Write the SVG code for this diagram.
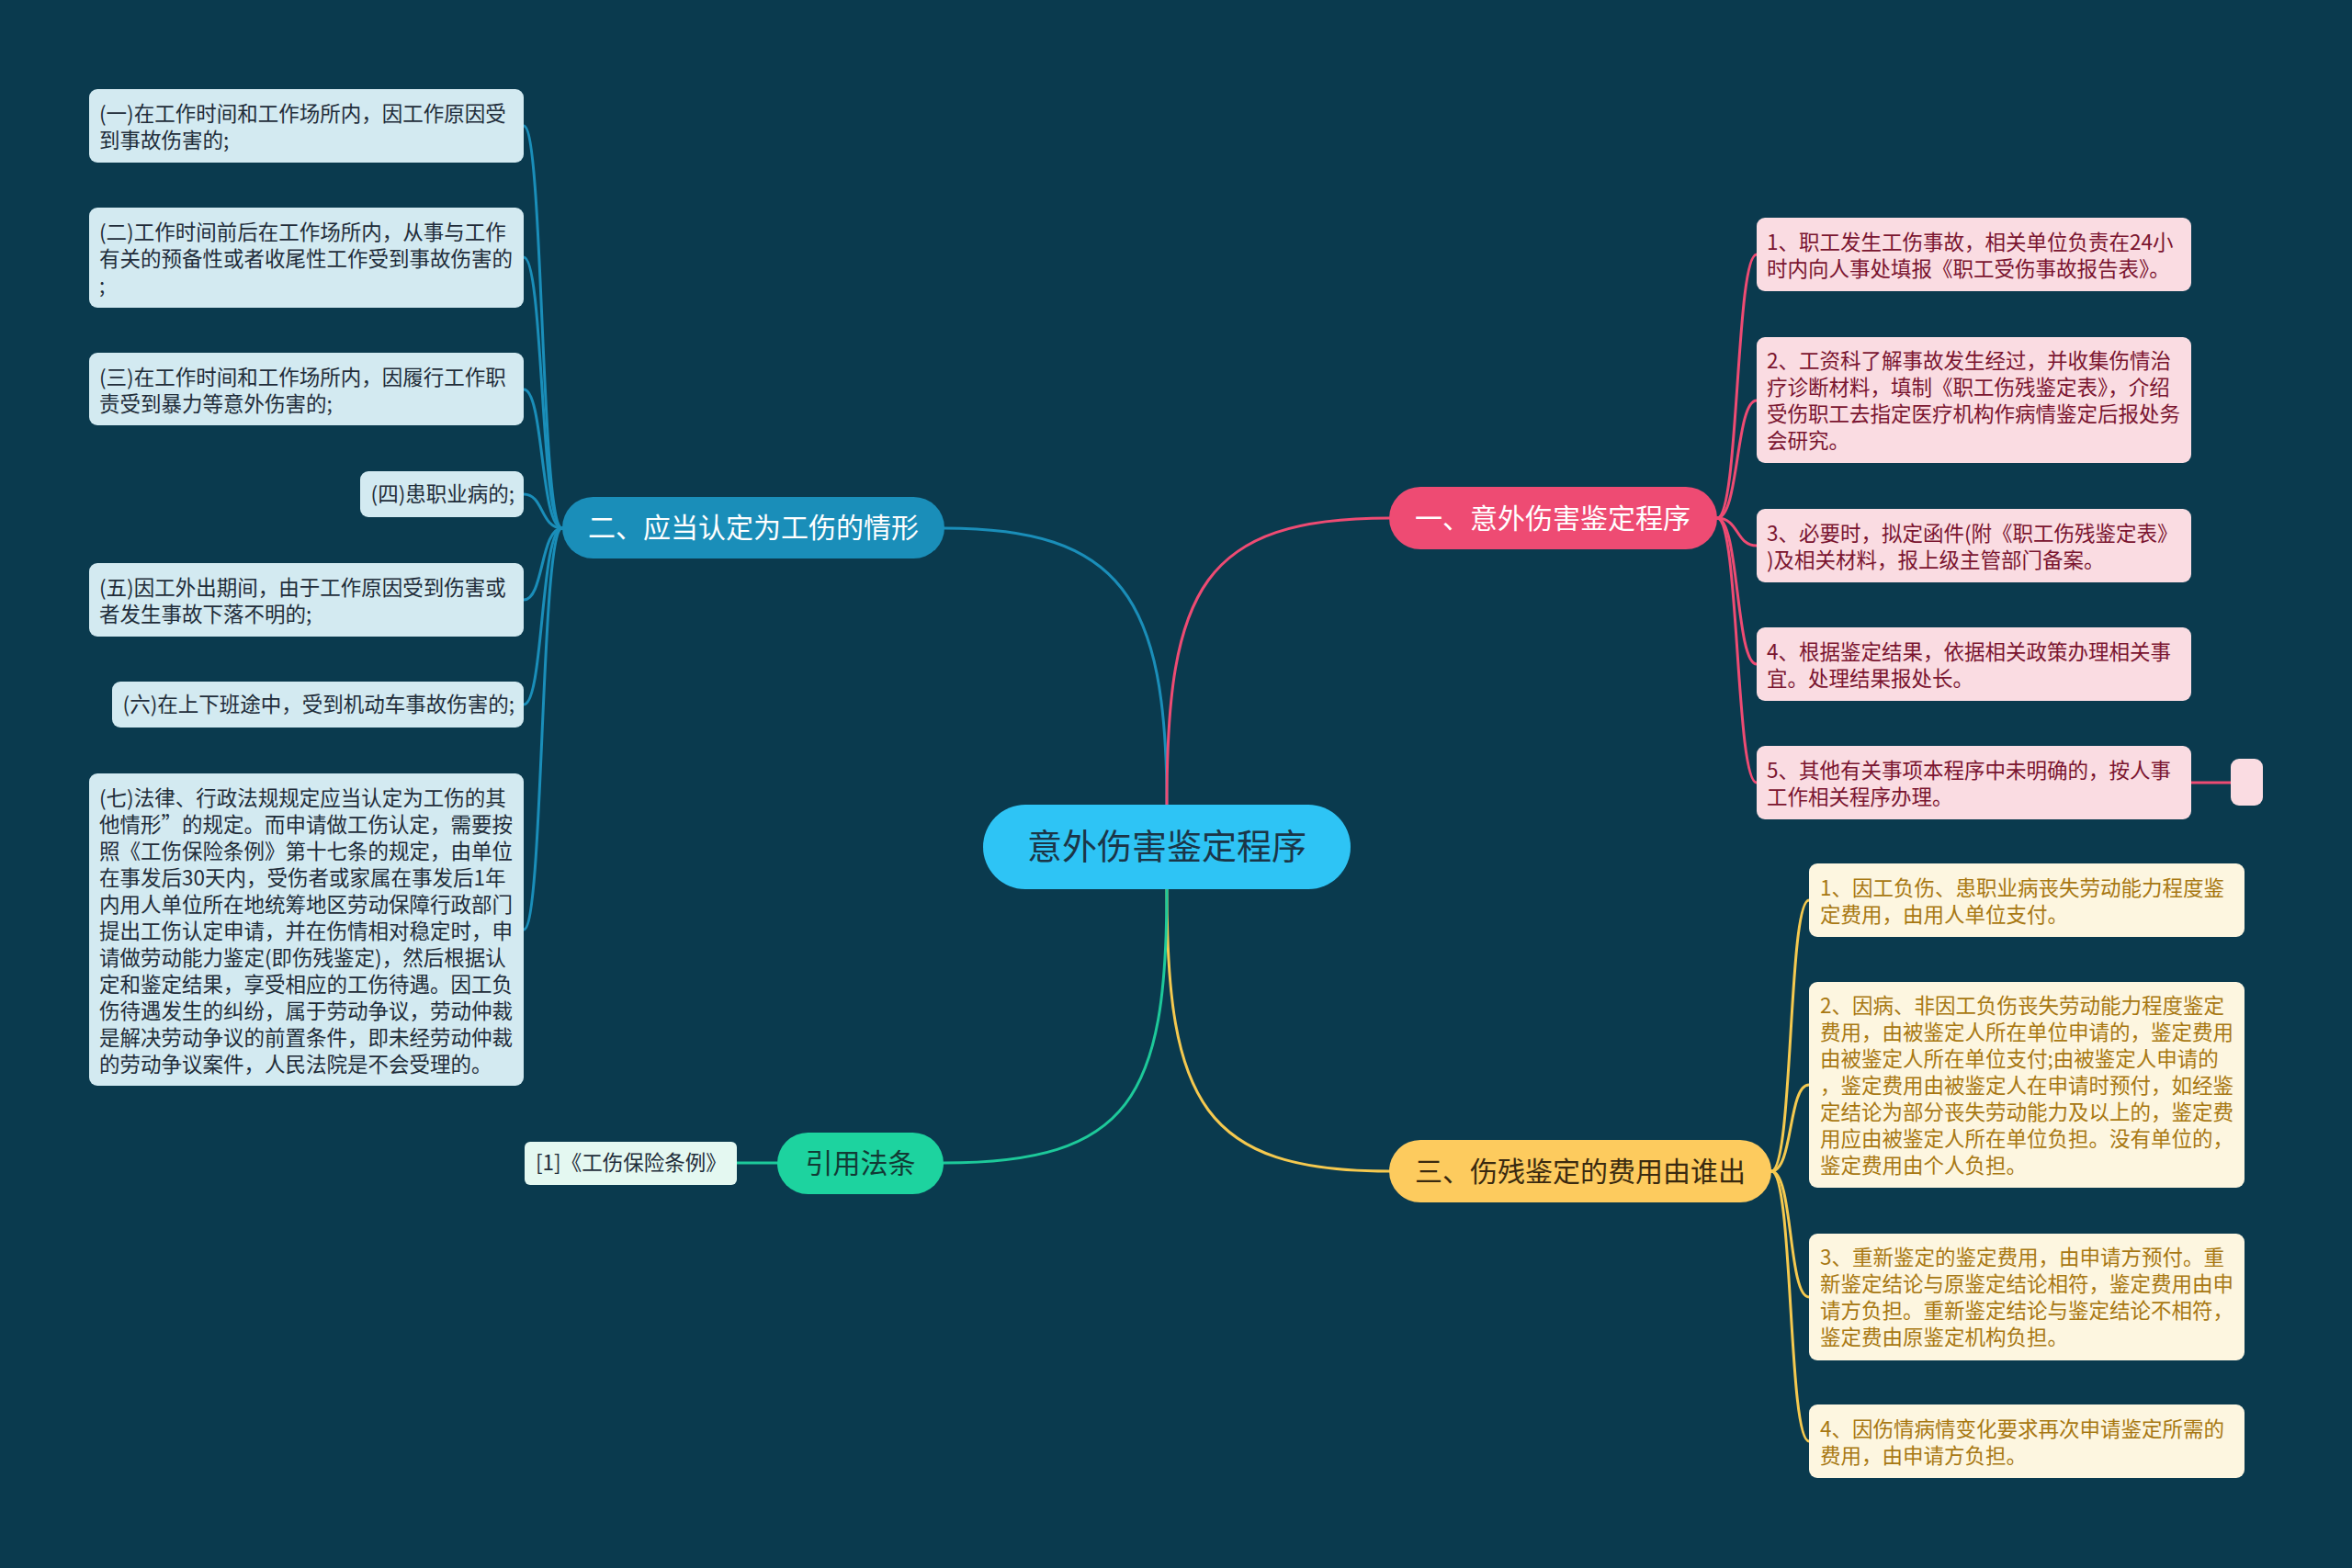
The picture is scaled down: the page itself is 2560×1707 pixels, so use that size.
<svg xmlns="http://www.w3.org/2000/svg" width="2560" height="1707" viewBox="0 0 2560 1707">
<style>
.t{font-family:"Noto Sans CJK SC","Liberation Sans",sans-serif;}
.leafB{fill:#D3EAF1;}
.leafP{fill:#FADCE2;}
.leafY{fill:#FDF6E0;}
.tb{font-size:22.5px;fill:#1F2D3A;}
.tp{font-size:22.5px;fill:#7A1530;}
.ty{font-size:22.5px;fill:#A87812;}
.br{font-size:30px;}
.c{fill:none;stroke-width:3;stroke-linecap:round;}
</style>
<rect width="2560" height="1707" fill="#0A3A4E"/>
<g id="connectors">
<path class="c" stroke="#1A8EB9" d="M1270,876 C1270,650 1220,575 1028,575"/>
<path class="c" stroke="#EE4B73" d="M1270,876 C1270,640 1310,564 1512,564"/>
<path class="c" stroke="#F5C94F" d="M1270,968 C1270,1200 1310,1275 1512,1275"/>
<path class="c" stroke="#1DC99A" d="M1270,968 C1270,1195 1230,1266 1027,1266"/>
<g stroke="#1A8EB9">
<path class="c" d="M612,575 C588,575 592,137 570,137"/>
<path class="c" d="M612,575 C588,575 592,280 570,280"/>
<path class="c" d="M612,575 C588,575 592,424 570,424"/>
<path class="c" d="M612,575 C588,575 592,538 570,538"/>
<path class="c" d="M612,575 C588,575 592,653 570,653"/>
<path class="c" d="M612,575 C588,575 592,767 570,767"/>
<path class="c" d="M612,575 C588,575 592,1012 570,1012"/>
</g>
<g stroke="#EE4B73">
<path class="c" d="M1869,564 C1893,564 1889,277 1912,277"/>
<path class="c" d="M1869,564 C1893,564 1889,436 1912,436"/>
<path class="c" d="M1869,564 C1893,564 1889,594 1912,594"/>
<path class="c" d="M1869,564 C1893,564 1889,723 1912,723"/>
<path class="c" d="M1869,564 C1893,564 1889,852 1912,852"/>
<path class="c" d="M2385,852 L2428,852"/>
</g>
<g stroke="#F5C94F">
<path class="c" d="M1928,1275 C1952,1275 1946,980 1969,980"/>
<path class="c" d="M1928,1275 C1952,1275 1946,1181 1969,1181"/>
<path class="c" d="M1928,1275 C1952,1275 1946,1412 1969,1412"/>
<path class="c" d="M1928,1275 C1952,1275 1946,1569 1969,1569"/>
</g>
<path class="c" stroke="#1DC99A" d="M846,1266 L802,1266"/>
</g>

<g id="center">
<rect x="1070" y="876" width="400" height="92" rx="46" fill="#2EC4F5"/>
<text class="t" x="1270" y="935" font-size="38" fill="#1B3547" text-anchor="middle">意外伤害鉴定程序</text>
</g>

<g id="branch1">
<rect x="1512" y="530" width="357" height="68" rx="34" fill="#EE4B73"/>
<text class="t br" x="1690" y="575" fill="#FFFFFF" text-anchor="middle">一、意外伤害鉴定程序</text>
</g>
<g id="branch2">
<rect x="612" y="541" width="416" height="67" rx="33.5" fill="#1A8EB9"/>
<text class="t br" x="820" y="585" fill="#FFFFFF" text-anchor="middle">二、应当认定为工伤的情形</text>
</g>
<g id="branch3">
<rect x="1512" y="1241" width="416" height="68" rx="34" fill="#FDCB5E"/>
<text class="t br" x="1720" y="1286" fill="#3A2A10" text-anchor="middle">三、伤残鉴定的费用由谁出</text>
</g>
<g id="branch4">
<rect x="846" y="1233" width="181" height="67" rx="33.5" fill="#1DD39F"/>
<text class="t br" x="936.5" y="1277" fill="#123A35" text-anchor="middle">引用法条</text>
</g>
<g id="ref1">
<rect x="571" y="1243" width="231" height="47" rx="6" fill="#E4F8F1"/>
<text class="t tb" x="583" y="1274">[1]《工伤保险条例》</text>
</g>

<g id="left1">
<rect class="leafB" x="97" y="97" width="473" height="80" rx="9"/>
<text class="t tb"><tspan x="108" y="132">(一)在工作时间和工作场所内，因工作原因受</tspan><tspan x="108" y="161">到事故伤害的;</tspan></text>
</g>
<g id="left2">
<rect class="leafB" x="97" y="226" width="473" height="109" rx="9"/>
<text class="t tb"><tspan x="108" y="261">(二)工作时间前后在工作场所内，从事与工作</tspan><tspan x="108" y="290">有关的预备性或者收尾性工作受到事故伤害的</tspan><tspan x="108" y="319">;</tspan></text>
</g>
<g id="left3">
<rect class="leafB" x="97" y="384" width="473" height="79" rx="9"/>
<text class="t tb"><tspan x="108" y="419">(三)在工作时间和工作场所内，因履行工作职</tspan><tspan x="108" y="448">责受到暴力等意外伤害的;</tspan></text>
</g>
<g id="left4">
<rect class="leafB" x="392" y="513" width="178" height="50" rx="9"/>
<text class="t tb" x="560" y="546" text-anchor="end">(四)患职业病的;</text>
</g>
<g id="left5">
<rect class="leafB" x="97" y="613" width="473" height="80" rx="9"/>
<text class="t tb"><tspan x="108" y="648">(五)因工外出期间，由于工作原因受到伤害或</tspan><tspan x="108" y="677">者发生事故下落不明的;</tspan></text>
</g>
<g id="left6">
<rect class="leafB" x="122" y="742" width="448" height="50" rx="9"/>
<text class="t tb" x="560" y="775" text-anchor="end">(六)在上下班途中，受到机动车事故伤害的;</text>
</g>
<g id="left7">
<rect class="leafB" x="97" y="842" width="473" height="340" rx="9"/>
<text class="t tb">
<tspan x="108" y="877">(七)法律、行政法规规定应当认定为工伤的其</tspan>
<tspan x="108" y="906">他情形”的规定。而申请做工伤认定，需要按</tspan>
<tspan x="108" y="935">照《工伤保险条例》第十七条的规定，由单位</tspan>
<tspan x="108" y="964">在事发后30天内，受伤者或家属在事发后1年</tspan>
<tspan x="108" y="993">内用人单位所在地统筹地区劳动保障行政部门</tspan>
<tspan x="108" y="1022">提出工伤认定申请，并在伤情相对稳定时，申</tspan>
<tspan x="108" y="1051">请做劳动能力鉴定(即伤残鉴定)，然后根据认</tspan>
<tspan x="108" y="1080">定和鉴定结果，享受相应的工伤待遇。因工负</tspan>
<tspan x="108" y="1109">伤待遇发生的纠纷，属于劳动争议，劳动仲裁</tspan>
<tspan x="108" y="1138">是解决劳动争议的前置条件，即未经劳动仲裁</tspan>
<tspan x="108" y="1167">的劳动争议案件，人民法院是不会受理的。</tspan>
</text>
</g>

<g id="right1">
<rect class="leafP" x="1912" y="237" width="473" height="80" rx="9"/>
<text class="t tp"><tspan x="1923" y="272">1、职工发生工伤事故，相关单位负责在24小</tspan><tspan x="1923" y="301">时内向人事处填报《职工受伤事故报告表》。</tspan></text>
</g>
<g id="right2">
<rect class="leafP" x="1912" y="367" width="473" height="137" rx="9"/>
<text class="t tp"><tspan x="1923" y="401">2、工资科了解事故发生经过，并收集伤情治</tspan><tspan x="1923" y="430">疗诊断材料，填制《职工伤残鉴定表》，介绍</tspan><tspan x="1923" y="459">受伤职工去指定医疗机构作病情鉴定后报处务</tspan><tspan x="1923" y="488">会研究。</tspan></text>
</g>
<g id="right3">
<rect class="leafP" x="1912" y="554" width="473" height="80" rx="9"/>
<text class="t tp"><tspan x="1923" y="589">3、必要时，拟定函件(附《职工伤残鉴定表》</tspan><tspan x="1923" y="618">)及相关材料，报上级主管部门备案。</tspan></text>
</g>
<g id="right4">
<rect class="leafP" x="1912" y="683" width="473" height="80" rx="9"/>
<text class="t tp"><tspan x="1923" y="718">4、根据鉴定结果，依据相关政策办理相关事</tspan><tspan x="1923" y="747">宜。处理结果报处长。</tspan></text>
</g>
<g id="right5">
<rect class="leafP" x="1912" y="812" width="473" height="80" rx="9"/>
<text class="t tp"><tspan x="1923" y="847">5、其他有关事项本程序中未明确的，按人事</tspan><tspan x="1923" y="876">工作相关程序办理。</tspan></text>
</g>
<g id="right5a">
<rect class="leafP" x="2428" y="826" width="35" height="51" rx="9"/>
</g>

<g id="right6">
<rect class="leafY" x="1969" y="940" width="474" height="80" rx="9"/>
<text class="t ty"><tspan x="1981" y="975">1、因工负伤、患职业病丧失劳动能力程度鉴</tspan><tspan x="1981" y="1004">定费用，由用人单位支付。</tspan></text>
</g>
<g id="right7">
<rect class="leafY" x="1969" y="1069" width="474" height="224" rx="9"/>
<text class="t ty">
<tspan x="1981" y="1103">2、因病、非因工负伤丧失劳动能力程度鉴定</tspan>
<tspan x="1981" y="1132">费用，由被鉴定人所在单位申请的，鉴定费用</tspan>
<tspan x="1981" y="1161">由被鉴定人所在单位支付;由被鉴定人申请的</tspan>
<tspan x="1981" y="1190">，鉴定费用由被鉴定人在申请时预付，如经鉴</tspan>
<tspan x="1981" y="1219">定结论为部分丧失劳动能力及以上的，鉴定费</tspan>
<tspan x="1981" y="1248">用应由被鉴定人所在单位负担。没有单位的，</tspan>
<tspan x="1981" y="1277">鉴定费用由个人负担。</tspan>
</text>
</g>
<g id="right8">
<rect class="leafY" x="1969" y="1343" width="474" height="138" rx="9"/>
<text class="t ty"><tspan x="1981" y="1377">3、重新鉴定的鉴定费用，由申请方预付。重</tspan><tspan x="1981" y="1406">新鉴定结论与原鉴定结论相符，鉴定费用由申</tspan><tspan x="1981" y="1435">请方负担。重新鉴定结论与鉴定结论不相符，</tspan><tspan x="1981" y="1464">鉴定费由原鉴定机构负担。</tspan></text>
</g>
<g id="right9">
<rect class="leafY" x="1969" y="1529" width="474" height="80" rx="9"/>
<text class="t ty"><tspan x="1981" y="1564">4、因伤情病情变化要求再次申请鉴定所需的</tspan><tspan x="1981" y="1593">费用，由申请方负担。</tspan></text>
</g>
</svg>
